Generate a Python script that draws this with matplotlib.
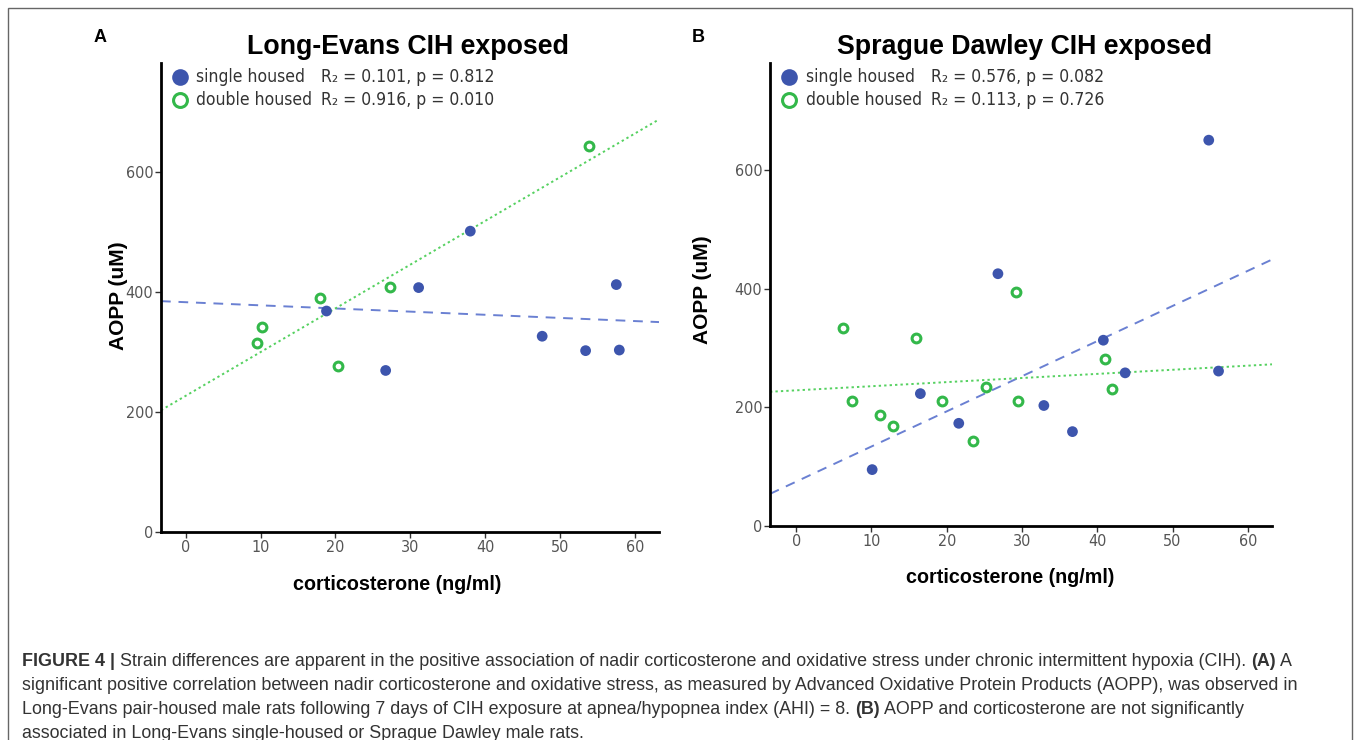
import numpy as np
import matplotlib
matplotlib.use('Agg')
from matplotlib import pyplot as plt
from matplotlib.patches import Rectangle

# --- data ---
le_single_x = [18.8, 26.7, 31.1, 38.0, 47.6, 53.4, 57.5, 57.9]
le_single_y = [368, 269, 407, 501, 326, 302, 412, 303]
le_double_x = [9.5, 10.2, 17.9, 20.3, 27.3, 53.8]
le_double_y = [315, 342, 389, 276, 408, 643]

sd_single_x = [10.1, 16.5, 21.6, 26.8, 32.9, 36.7, 40.8, 43.7, 54.8, 56.1]
sd_single_y = [95, 223, 173, 425, 203, 159, 313, 258, 650, 261]
sd_double_x = [6.2, 7.4, 11.2, 12.8, 15.9, 19.4, 23.5, 25.2, 29.2, 29.5, 41.0, 42.0]
sd_double_y = [334, 211, 187, 169, 317, 211, 144, 235, 394, 211, 282, 230]

x_ticks = [0, 10, 20, 30, 40, 50, 60]
y_ticks = [0, 200, 400, 600]

titles = ['Long-Evans CIH exposed', 'Sprague Dawley CIH exposed']
stats_single = ['R\u2082 = 0.101, p = 0.812', 'R\u2082 = 0.576, p = 0.082']
stats_double = ['R\u2082 = 0.916, p = 0.010', 'R\u2082 = 0.113, p = 0.726']

BLUE = '#3d55ad'
BLUE_LINE = '#6a80d2'
GREEN = '#33b84a'
GREEN_LINE = '#55d160'
SANS = ['Liberation Sans', 'DejaVu Sans']

plt.rcParams['font.family'] = SANS

fig = plt.figure(figsize=(13.57, 7.4), dpi=100)
fig.patches.append(Rectangle((8 / 1357, -0.02), 1344 / 1357, 1.02 - 8 / 740,
                             transform=fig.transFigure, fill=False,
                             edgecolor='#666666', lw=1.0))

def fit_line(ax, xs, ys, xlim, color, ls):
    k, b = np.polyfit(xs, ys, 1)
    xx = np.array(xlim)
    ax.plot(xx, k * xx + b, color=color, ls=ls, lw=1.4, zorder=2)

def panel(rect, xlim, ylim, sx, sy, dx, dy, title, st1, st2, lab_pos):
    ax = fig.add_axes(rect)
    fit_line(ax, sx, sy, xlim, BLUE_LINE, (0, (5, 4)))
    fit_line(ax, dx, dy, xlim, GREEN_LINE, (0, (1.2, 1.6)))
    ax.scatter(sx, sy, s=60, color=BLUE, edgecolors='none', zorder=3)
    ax.scatter(dx, dy, s=40, facecolors='white', edgecolors=GREEN,
               linewidths=2.2, zorder=3)
    ax.set_xlim(xlim)
    ax.set_ylim(ylim)
    ax.set_xticks(x_ticks)
    ax.set_yticks(y_ticks)
    for s in ['top', 'right']:
        ax.spines[s].set_visible(False)
    for s in ['left', 'bottom']:
        ax.spines[s].set_linewidth(2.0)
        ax.spines[s].set_color('black')
    ax.tick_params(length=4, width=1, color='#333333', labelcolor='#555555',
                   labelsize=11.5, pad=1.5)
    for lbl in ax.get_xticklabels() + ax.get_yticklabels():
        lbl.set_family('DejaVu Sans')
        lbl.set_stretch('condensed')
    ax.set_xlabel('corticosterone (ng/ml)', fontsize=14.2, fontweight='bold')
    ax.set_ylabel('AOPP (uM)', fontsize=15, fontweight='bold')
    ax.xaxis.set_label_coords(lab_pos[0], lab_pos[1], transform=ax.transAxes)
    ax.yaxis.set_label_coords(lab_pos[2], lab_pos[3], transform=ax.transAxes)
    ax.xaxis.label.set_va('center')
    ax.yaxis.label.set_va('center')
    ax.text(lab_pos[4], 1.035, title, transform=ax.transAxes, ha='center',
            va='center', fontsize=19.3, fontweight='bold')
    # legend block
    ax.plot([0.038], [0.970], 'o', ms=12, color=BLUE, mec='none',
            transform=ax.transAxes, clip_on=False)
    ax.plot([0.038], [0.921], 'o', ms=10, mfc='white', mec=GREEN, mew=2.2,
            transform=ax.transAxes, clip_on=False)
    for yy, name, st in [(0.970, 'single housed', st1), (0.921, 'double housed', st2)]:
        ax.text(0.071, yy, name, transform=ax.transAxes, va='center',
                fontsize=12.6, color='#333333', family='DejaVu Sans',
                stretch='condensed')
        ax.text(0.321, yy, st, transform=ax.transAxes, va='center',
                fontsize=12.6, color='#333333', family='DejaVu Sans',
                stretch='condensed')
    return ax

panel([161 / 1357, 208 / 740, 498 / 1357, 469 / 740], (-3.3, 63.2), (0, 781),
      le_single_x, le_single_y, le_double_x, le_double_y, titles[0],
      stats_single[0], stats_double[0], (0.474, -0.111, -0.0863, 0.503, 0.496))
panel([770 / 1357, 214 / 740, 502 / 1357, 463 / 740], (-3.47, 63.2), (0, 780),
      sd_single_x, sd_single_y, sd_double_x, sd_double_y, titles[1],
      stats_single[1], stats_double[1], (0.478, -0.112, -0.1335, 0.51, 0.508))

fig.text(100 / 1357, 1 - 37 / 740, 'A', fontsize=13, fontweight='bold',
         ha='center', va='center')
fig.text(698 / 1357, 1 - 37 / 740, 'B', fontsize=13, fontweight='bold',
         ha='center', va='center')

# caption, with bold pieces laid one after another
cap_lines = [
    [('FIGURE 4 |', True), (' Strain differences are apparent in the positive association of nadir '
     'corticosterone and oxidative stress under chronic intermittent hypoxia (CIH). ', False),
     ('(A)', True), (' A', False)],
    [('significant positive correlation between nadir corticosterone and oxidative stress, as '
      'measured by Advanced Oxidative Protein Products (AOPP), was observed in', False)],
    [('Long-Evans pair-housed male rats following 7 days of CIH exposure at apnea/hypopnea '
      'index (AHI) = 8. ', False), ('(B)', True),
     (' AOPP and corticosterone are not significantly', False)],
    [('associated in Long-Evans single-housed or Sprague Dawley male rats.', False)],
]
cap_y = [662, 686, 709, 733]
renderer = fig.canvas.get_renderer()
for parts, py in zip(cap_lines, cap_y):
    x = 22 / 1357
    for s, bold in parts:
        t = fig.text(x, 1 - py / 740, s, fontsize=12.9, va='center',
                     color='#333333', fontweight='bold' if bold else 'normal')
        x += t.get_window_extent(renderer).width / fig.bbox.width

fig.savefig('out.png', dpi=100)
